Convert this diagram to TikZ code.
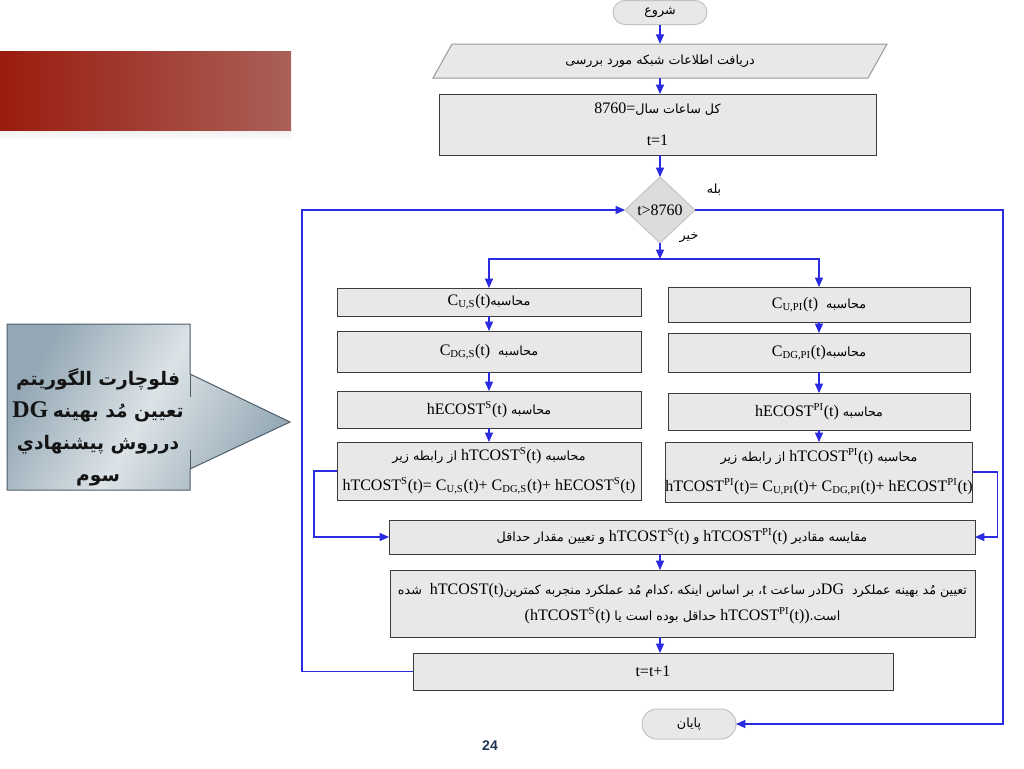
\documentclass[tikz,border=0pt]{standalone}
\usepackage{fontspec}
\setmainfont{Liberation Serif}
\newfontfamily\arfont[Script=Arabic]{DejaVu Sans}
\newfontfamily\pgsans{Liberation Sans}
\TeXXeTstate=1
\usetikzlibrary{arrows.meta,shapes.geometric,shapes.misc,calc}
\newcommand{\artxt}[1]{{\arfont\fontsize{9.5}{11}\selectfont\beginR #1\endR}}
\newcommand{\artxtb}[1]{{\arfont\bfseries\fontsize{14}{16}\selectfont\beginR #1\endR}}
\definecolor{boxfill}{HTML}{E8E8E8}
\definecolor{boxline}{HTML}{3C3C3C}
\definecolor{pillline}{HTML}{C4C4C4}
\definecolor{flow}{HTML}{2A2AE0}
\definecolor{banL}{HTML}{9A1C0E}
\definecolor{banR}{HTML}{AA6058}
\definecolor{calA}{HTML}{93A7B4}
\definecolor{calB}{HTML}{DCE3E7}
\definecolor{calC}{HTML}{98ABB7}
\definecolor{calline}{HTML}{4C5E6C}
\definecolor{pagenum}{HTML}{1F3554}
\begin{document}
\begin{tikzpicture}[x=0.75pt,y=-0.75pt,
  pbox/.style={draw=boxline, fill=boxfill, line width=0.75pt, inner sep=0pt, outer sep=0pt, align=center, font=\fontsize{12}{14}\selectfont},
  bsize/.style 2 args={minimum width=#1*0.75pt, minimum height=#2*0.75pt},
  pill/.style={rounded rectangle, draw=pillline, fill=boxfill, line width=0.75pt, inner sep=0pt, outer sep=0pt},
  dia/.style={diamond, draw=pillline, fill=boxfill!95!black, line width=0.75pt, inner sep=0pt, outer sep=0pt, aspect=1.06, minimum width=52.5pt, minimum height=49.5pt, font=\fontsize{12}{14}\selectfont},
  flowline/.style={draw=flow, line width=0.8pt},
  arr/.style={flowline, -{Triangle[length=7pt,width=6pt]}},
  lbl/.style={inner sep=0pt}
]
\useasboundingbox (0,0) rectangle (1024,768);
\fill[white] (0,0) rectangle (1024,768);

% red banner
\shade[left color=banL, right color=banR] (0,51) rectangle (291,131);
\shade[top color=black!6, bottom color=white] (0,131) rectangle (291,140);

% callout
\path[draw=calline, line width=0.75pt, left color=calA, right color=calC, middle color=calB, shading angle=60]
  (7,324) -- (190,324) -- (190,374) -- (290,422) -- (190,469) -- (190,490) -- (7,490) -- cycle;
\draw[calline, line width=0.75pt] (190,374) -- (190,397) (190,450) -- (190,469);
\node[lbl, align=center, text=black!92, font=\fontsize{14}{24}\selectfont] (ctext) at (98,427)
  {\artxtb{فلوچارت الگوریتم}\\
   {\fontsize{18}{20}\selectfont\bfseries DG}\ \artxtb{تعیین مُد بهینه}\\
   \artxtb{درروش پیشنهادي}\\
   \artxtb{سوم}};

% flowchart nodes
\node[pill, minimum width=70.5pt, minimum height=18pt] (start) at (660,12.5) {\artxt{شروع}};
\draw[draw=black!40, fill=boxfill, line width=0.75pt] (433,78) -- (452,44) -- (887,44) -- (868,78) -- cycle;
\node[lbl, bsize={400}{34}] (par) at (660,61) {\artxt{دریافت اطلاعات شبکه مورد بررسی}};
\node[pbox, bsize={437}{61}, font=\fontsize{12}{24}\selectfont] (init) at (657.5,124.5) {8760=\artxt{کل ساعات سال}\\t=1};
\node[dia] (dec) at (660,210) {t>8760};
\node[lbl] (yes) at (714,190) {\artxt{بله}};
\node[lbl] (no) at (689,238) {\artxt{خیر}};
\coordinate (br) at (660,259);

\node[pbox, bsize={304}{28}] (L1) at (489,302) {C\textsubscript{U,S}(t)\artxt{محاسبه}};
\node[pbox, bsize={304}{41}] (L2) at (489,351.5) {C\textsubscript{DG,S}(t)\ \ \artxt{محاسبه}};
\node[pbox, bsize={304}{37}] (L3) at (489,409.5) {hECOST\textsuperscript{S}(t)\ \artxt{محاسبه}};
\node[pbox, bsize={304}{58}, font=\fontsize{12}{22}\selectfont] (L4) at (489,471)
  {\artxt{از رابطه زیر}\ hTCOST\textsuperscript{S}(t)\ \artxt{محاسبه}\\
   hTCOST\textsuperscript{S}(t)= C\textsubscript{U,S}(t)+ C\textsubscript{DG,S}(t)+ hECOST\textsuperscript{S}(t)};

\node[pbox, bsize={302}{35}] (R1) at (819,304.5) {C\textsubscript{U,PI}(t)\ \ \artxt{محاسبه}};
\node[pbox, bsize={302}{39}] (R2) at (819,352.5) {C\textsubscript{DG,PI}(t)\artxt{محاسبه}};
\node[pbox, bsize={302}{37}] (R3) at (819,411.5) {hECOST\textsuperscript{PI}(t)\ \artxt{محاسبه}};
\node[pbox, bsize={302}{60}, font=\fontsize{12}{22}\selectfont] (R4) at (819,472)
  {\artxt{از رابطه زیر}\ hTCOST\textsuperscript{PI}(t)\ \artxt{محاسبه}\\
   hTCOST\textsuperscript{PI}(t)= C\textsubscript{U,PI}(t)+ C\textsubscript{DG,PI}(t)+ hECOST\textsuperscript{PI}(t)};

\node[pbox, bsize={586}{34}] (cmp) at (682,537)
  {\artxt{و تعیین مقدار حداقل}\ hTCOST\textsuperscript{S}(t)\ \artxt{و}\ hTCOST\textsuperscript{PI}(t)\ \artxt{مقایسه مقادیر}};
\node[pbox, bsize={585}{67}, font=\fontsize{12}{19.5}\selectfont] (det) at (682.5,603.5)
  {\artxt{شده}\ \ hTCOST(t)\artxt{، بر اساس اینکه ،کدام مُد عملکرد منجربه کمترین}t\ \artxt{در ساعت}DG\ \ \artxt{تعیین مُد بهینه عملکرد}\\
   (hTCOST\textsuperscript{S}(t)\ \artxt{حداقل بوده است یا}\ hTCOST\textsuperscript{PI}(t))\artxt{است.}};
\node[pbox, bsize={480}{37}] (inc) at (653,671.5) {t=t+1};
\node[pill, minimum width=70.5pt, minimum height=22.5pt] (stop) at (689,724) {\artxt{پایان}};
\coordinate (rr) at (1003,724);

\node[lbl, font=\pgsans\bfseries\fontsize{10.5}{12}\selectfont, text=pagenum] (pg) at (490,746) {24};

% connectors
\draw[arr] (start.south) -- (par.north);
\draw[arr] (par.south) -- (init.north -| start);
\draw[arr] (init.south -| start) -- (dec.north);
\draw[arr] (dec.south) -- (br);
\draw[arr] (br) -| (L1.north);
\draw[arr] (br) -| (R1.north);
\draw[arr] (L1.south) -- (L2.north);
\draw[arr] (L2.south) -- (L3.north);
\draw[arr] (L3.south) -- (L4.north);
\draw[arr] (R1.south) -- (R2.north);
\draw[arr] (R2.south) -- (R3.north);
\draw[arr] (R3.south) -- (R4.north);
\draw[arr] (L4.west) -- ++(-23,0) |- (cmp.west);
\draw[arr] (R4.east) -- ++(25,0) |- (cmp.east);
\draw[arr] (cmp.south -| br) -- (det.north -| br);
\draw[arr] (det.south -| br) -- (inc.north -| br);
\draw[arr] (inc.west) -- ++(-111,0) |- (dec.west);
\draw[arr] (dec.east) -| (rr) -- (stop.east);
\end{tikzpicture}
\end{document}
